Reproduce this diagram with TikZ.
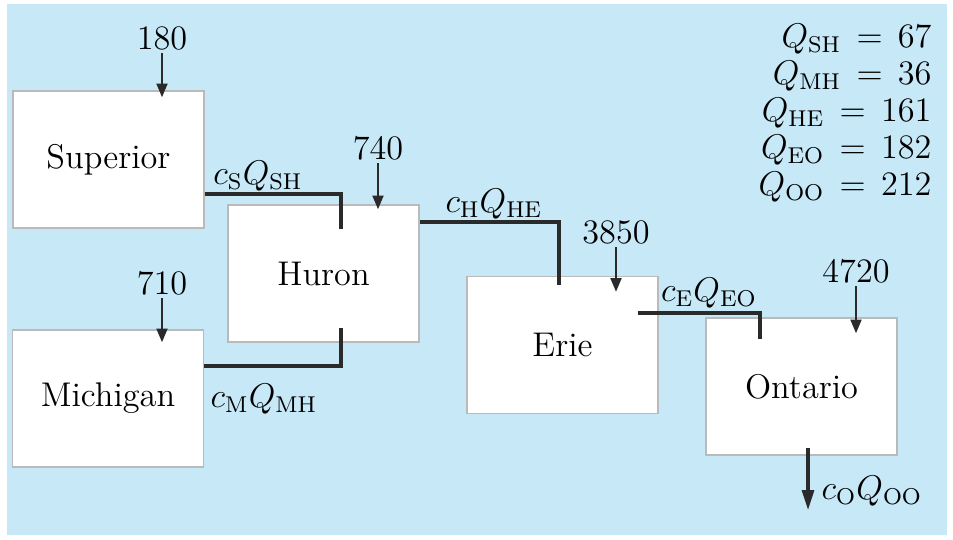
\documentclass[tikz,border=0pt]{standalone}
\usetikzlibrary{arrows.meta,calc}
\definecolor{lakebg}{RGB}{198,232,247}
\definecolor{flowgray}{RGB}{42,42,42}
\tikzset{
  lake/.style={draw=black!27, line width=0.5pt, fill=white, minimum width=66.85pt, minimum height=47.95pt, inner sep=0pt},
  load/.style={inner sep=1pt},
  inflow/.style={flowgray, line width=0.8pt, -{Triangle[length=4.8pt,width=3.8pt]}},
  flow/.style={flowgray, line width=1.1pt},
  outflow/.style={flowgray, line width=1.1pt, -{Triangle[length=7pt,width=4.2pt]}},
}

\begin{document}
\begin{tikzpicture}[x=0.35pt, y=-0.35pt, font=\fontsize{12}{14}\selectfont]
\useasboundingbox (0,0) rectangle (953,539);
\fill[lakebg] (7,4) rectangle (947,535);
% lakes
\node[lake] (sup) at (108.5,159.5) {Superior};
\node[lake] (hur) at (323.5,273.5) {Huron};
\node[lake] (mic) at (108,398.5) {Michigan};
\node[lake] (eri) at (562.5,345) {Erie};
\node[lake] (ont) at (801.5,386.5) {Ontario};
% loads
\node[load] (n180) at (162,38) {180};
\node[load] (n740) at (378,148) {740};
\node[load] (n710) at (162,283) {710};
\node[load] (n3850) at (616,232) {3850};
\node[load] (n4720) at (856,271) {4720};
\draw[inflow] (n180.south) -- ($(sup.north)+(53.5,7)$);
\draw[inflow] (n740.south) -- ($(hur.north)+(54.5,5)$);
\draw[inflow] (n710.south) -- ($(mic.north)+(54,13)$);
\draw[inflow] (n3850.south) -- ($(eri.north)+(53.5,16)$);
\draw[inflow] (n4720.south) -- ($(ont.north)+(54.5,16)$);
% flows between lakes
\draw[flow] ($(sup.east)+(0,34.5)$) -| ($(hur.north)+(17.5,25)$);
\draw[flow] ($(mic.east)+(0,-32.5)$) -| ($(hur.south)+(17.5,-15)$);
\draw[flow] ($(hur.east)+(0,-51.5)$) -| ($(eri.north)+(-3.5,9)$);
\draw[flow] ($(eri.east)+(-21,-32)$) -| ($(ont.north)+(-41.5,22)$);
\coordinate (out) at (808,510);
\draw[outflow] ($(ont.south)+(6.5,-8)$) -- (out);
% flow labels
\node (lsh) at (258,176) {$c_{\mathrm{S}}Q_{\mathrm{SH}}$};
\node (lmh) at (264,399) {$c_{\mathrm{M}}Q_{\mathrm{MH}}$};
\node (lhe) at (494,204) {$c_{\mathrm{H}}Q_{\mathrm{HE}}$};
\node (leo) at (709,293) {$c_{\mathrm{E}}Q_{\mathrm{EO}}$};
\node (loo) at (872,491) {$c_{\mathrm{O}}Q_{\mathrm{OO}}$};
% flow values
\foreach \sub/\val [count=\i from 0] in {SH/67,MH/36,HE/161,EO/182,OO/212}
  \node[anchor=base east, inner sep=0pt] (q\sub) at (932,47+37*\i) {$Q_{\mathrm{\sub}}\,=\,\val$};
\end{tikzpicture}
\end{document}
